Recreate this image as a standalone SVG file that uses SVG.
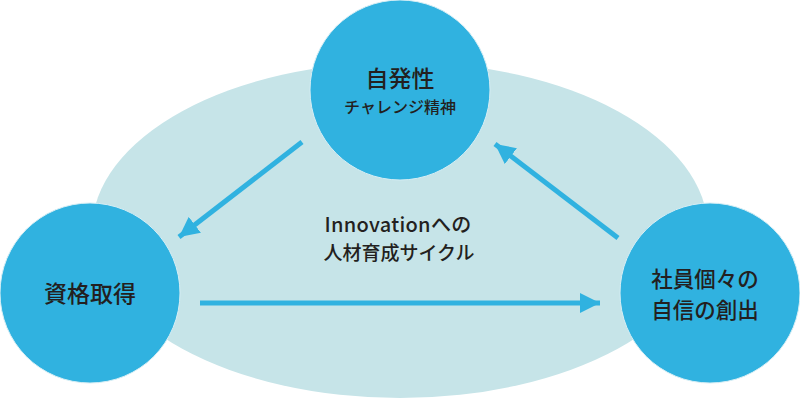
<svg xmlns="http://www.w3.org/2000/svg" width="800" height="400" viewBox="0 0 800 400">
<defs>
<style>
.bg{fill:#c6e4e8}
.node{fill:#30b2e0;stroke:#d6eef5;stroke-width:1}
.conn{stroke:#30b2e0;stroke-width:5;fill:none}
.t{font-family:"Noto Sans CJK JP","Noto Sans",sans-serif;fill:#231f20;text-anchor:middle;font-weight:500}
</style>
<marker id="ah" markerUnits="userSpaceOnUse" markerWidth="22" markerHeight="22" viewBox="0 0 22 22" refX="20" refY="11" orient="auto">
<path d="M0,1 L20,11 L0,21 Z" fill="#30b2e0"/>
</marker>
</defs>
<ellipse class="bg" cx="400" cy="230" rx="308" ry="168"/>
<g id="connectors">
<line class="conn" x1="302" y1="142" x2="179" y2="237" marker-end="url(#ah)"/>
<line class="conn" x1="618" y1="238" x2="495" y2="144" marker-end="url(#ah)"/>
<line class="conn" x1="200" y1="303" x2="600" y2="303" marker-end="url(#ah)"/>
</g>
<g id="center-label">
<text class="t" x="398" y="232" font-size="20" letter-spacing="0.3">Innovationへの</text>
<text class="t" x="399" y="260" font-size="19">人材育成サイクル</text>
</g>
<g id="node-top">
<circle class="node" cx="400" cy="90" r="90"/>
<text class="t" x="400" y="87" font-size="23">自発性</text>
<text class="t" x="400" y="113" font-size="16">チャレンジ精神</text>
</g>
<g id="node-left">
<circle class="node" cx="90" cy="293" r="90"/>
<text class="t" x="90" y="302" font-size="23">資格取得</text>
</g>
<g id="node-right">
<circle class="node" cx="710" cy="293" r="90"/>
<text class="t" x="705" y="287" font-size="21.5">社員個々の</text>
<text class="t" x="705" y="318" font-size="21.5">自信の創出</text>
</g>
</svg>
